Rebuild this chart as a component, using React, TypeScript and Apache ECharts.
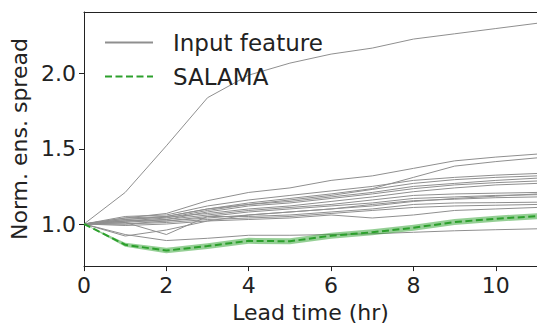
import React, { useEffect, useRef } from "react";
import * as echarts from "echarts";

const leadTimes = [0, 1, 2, 3, 4, 5, 6, 7, 8, 9, 10, 11];

const inputFeatures: number[][] = [
  [1.0, 1.21, 1.52, 1.84, 1.99, 2.07, 2.13, 2.17, 2.23, 2.265, 2.3, 2.335],
  [1.0, 1.04, 1.07, 1.155, 1.21, 1.24, 1.29, 1.32, 1.37, 1.42, 1.445, 1.465],
  [1.0, 1.03, 1.05, 1.1, 1.14, 1.17, 1.2, 1.235, 1.31, 1.385, 1.415, 1.44],
  [1.0, 1.05, 1.06, 1.12, 1.16, 1.19, 1.22, 1.25, 1.29, 1.31, 1.325, 1.336],
  [1.0, 1.02, 1.04, 1.09, 1.13, 1.16, 1.19, 1.23, 1.27, 1.295, 1.31, 1.32],
  [1.0, 1.04, 1.05, 1.1, 1.13, 1.15, 1.18, 1.21, 1.25, 1.27, 1.29, 1.305],
  [1.0, 1.01, 1.03, 1.08, 1.12, 1.14, 1.17, 1.2, 1.235, 1.26, 1.275, 1.286],
  [1.0, 1.03, 1.045, 1.07, 1.1, 1.12, 1.15, 1.18, 1.215, 1.24, 1.26, 1.27],
  [1.0, 1.02, 1.03, 1.06, 1.09, 1.11, 1.13, 1.16, 1.19, 1.2, 1.205, 1.21],
  [1.0, 1.0, 1.02, 1.05, 1.08, 1.1, 1.12, 1.14, 1.17, 1.18, 1.19, 1.195],
  [1.0, 0.92, 0.96, 1.02, 1.06, 1.08, 1.1, 1.13, 1.155, 1.165, 1.175, 1.18],
  [1.0, 1.01, 0.93, 1.05, 1.05, 1.06, 1.08, 1.1, 1.13, 1.14, 1.142, 1.145],
  [1.0, 1.0, 1.01, 1.03, 1.04, 1.05, 1.07, 1.09, 1.11, 1.12, 1.125, 1.13],
  [1.0, 0.99, 1.0, 1.02, 1.03, 1.04, 1.06, 1.04, 1.06, 1.09, 1.1, 1.11],
  [1.0, 1.02, 1.02, 1.04, 1.06, 1.08, 1.1, 1.12, 1.15, 1.17, 1.185, 1.2],
  [1.0, 0.93, 0.89, 0.905, 0.925, 0.925, 0.93, 0.935, 0.945, 0.955, 0.962, 0.968],
];

const salama = [1.0, 0.862, 0.823, 0.853, 0.888, 0.885, 0.922, 0.945, 0.975, 1.013, 1.035, 1.052];
const salamaLow = [1.0, 0.848, 0.805, 0.834, 0.868, 0.866, 0.902, 0.925, 0.955, 0.993, 1.015, 1.032];
const salamaHigh = [1.0, 0.876, 0.842, 0.872, 0.908, 0.905, 0.942, 0.965, 0.995, 1.033, 1.055, 1.072];

const yTicks = [1.0, 1.5, 2.0];

const FONT = "DejaVu Sans";
const FS = 22;

export default function App() {
  const ref = useRef<HTMLDivElement>(null);

  useEffect(() => {
    if (!ref.current) return;
    const chart = echarts.init(ref.current, undefined, { renderer: "svg" });

    const pairs = (arr: number[]) => leadTimes.map((t, i) => [t, arr[i]]);

    const graySeries = inputFeatures.map((f) => ({
      name: "Input feature",
      type: "line",
      data: pairs(f),
      symbol: "none",
      lineStyle: { color: "#8f8f8f", width: 1 },
      itemStyle: { color: "#8f8f8f" },
      z: 2,
    }));

    const option: any = {
      animation: false,
      textStyle: { fontFamily: FONT },
      grid: { left: 84, right: -3.5, top: 12, bottom: 56, containLabel: false },
      legend: {
        data: ["Input feature", "SALAMA"],
        orient: "vertical",
        left: 104,
        top: 31,
        padding: 0,
        itemWidth: 48,
        itemHeight: 14,
        itemGap: 11,
        selectedMode: false,
        itemStyle: { opacity: 0 },
        textStyle: { fontFamily: FONT, fontSize: 23, color: "#222", padding: [0, 0, 0, 15] },
      },
      xAxis: [
        {
          type: "value",
          min: 0,
          max: 11,
          interval: 2,
          name: "Lead time (hr)",
          nameLocation: "middle",
          nameGap: 32,
          nameTextStyle: { fontFamily: FONT, fontSize: FS, color: "#222" },
          axisLine: { show: true, lineStyle: { color: "#222", width: 1 } },
          axisTick: { show: true, length: 5, lineStyle: { color: "#222" } },
          axisLabel: { fontFamily: FONT, fontSize: FS, color: "#222", margin: 8, showMaxLabel: false },
          splitLine: { show: false },
        },
        {
          type: "value",
          position: "top",
          min: 0,
          max: 11,
          axisLine: { show: true, lineStyle: { color: "#222", width: 1 } },
          axisTick: { show: false },
          axisLabel: { show: false },
          splitLine: { show: false },
        },
      ],
      yAxis: {
        type: "value",
        min: 0.72,
        max: 2.41,
        name: "Norm. ens. spread",
        nameLocation: "middle",
        nameGap: 50,
        nameTextStyle: { fontFamily: FONT, fontSize: FS, color: "#222" },
        axisLine: { show: true, lineStyle: { color: "#222", width: 1 } },
        axisTick: { show: true, length: 5, customValues: yTicks, lineStyle: { color: "#222" } },
        axisLabel: {
          fontFamily: FONT,
          fontSize: FS,
          color: "#222",
          margin: 8,
          customValues: yTicks,
          formatter: (v: number) => v.toFixed(1),
        },
        splitLine: { show: false },
      },
      series: [
        ...graySeries,
        {
          name: "band",
          type: "custom",
          data: [[0, 1]],
          z: 3,
          renderItem: (_params: any, api: any) => {
            const upper = leadTimes.map((t, i) => api.coord([t, salamaHigh[i]]));
            const lower = leadTimes
              .map((t, i) => api.coord([t, salamaLow[i]]))
              .reverse();
            return {
              type: "polygon",
              shape: { points: upper.concat(lower) },
              style: { fill: "rgba(44,160,44,0.5)", stroke: "none" },
            };
          },
        },
        {
          name: "SALAMA",
          type: "line",
          data: pairs(salama),
          symbol: "none",
          lineStyle: { color: "#2ca02c", width: 2, type: [7, 3.5] },
          itemStyle: { color: "#2ca02c" },
          z: 4,
        },
      ],
    };

    chart.setOption(option);
    return () => chart.dispose();
  }, []);

  return (
    <div
      ref={ref}
      style={{ position: "absolute", left: 0, top: 0, width: 537, height: 328 }}
    />
  );
}
